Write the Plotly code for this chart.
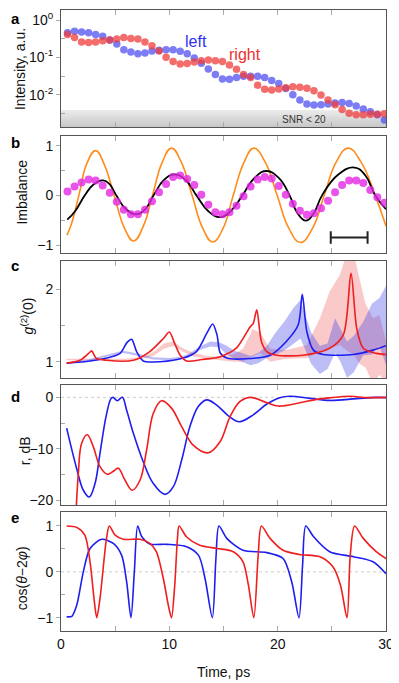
import math
import plotly.graph_objects as go
from plotly.subplots import make_subplots

FONT = "Liberation Sans, Arial, sans-serif"
BLUE = "#1e1ef0"
RED = "#f01e1e"

# ---- painel a: intensidade (escala log)
t_pts = [0.6, 1.25, 1.9, 2.55, 3.2, 3.85, 4.5, 5.15, 5.8, 6.45,
         7.1, 7.75, 8.4, 9.05, 9.7, 10.35, 11.0, 11.65, 12.3, 12.95,
         13.6, 14.25, 14.9, 15.55, 16.2, 16.85, 17.5, 18.15, 18.8, 19.45,
         20.1, 20.75, 21.4, 22.05, 22.7, 23.35, 24.0, 24.65, 25.3, 25.95,
         26.6, 27.25, 27.9, 28.55, 29.2, 29.85]
int_left = [0.46, 0.50, 0.48, 0.46, 0.41, 0.37, 0.29, 0.23, 0.16, 0.14,
            0.126, 0.131, 0.148, 0.155, 0.161, 0.161, 0.145, 0.126, 0.096, 0.070,
            0.049, 0.035, 0.0265, 0.026, 0.029, 0.031, 0.031, 0.031, 0.029, 0.024,
            0.020, 0.0147, 0.010, 0.0072, 0.0056, 0.0053, 0.0054, 0.0056, 0.0060, 0.0062,
            0.0058, 0.0050, 0.0041, 0.0035, 0.0029, 0.0021]
int_right = [0.41, 0.34, 0.26, 0.25, 0.26, 0.28, 0.29, 0.31, 0.34, 0.32,
             0.31, 0.26, 0.205, 0.148, 0.100, 0.077, 0.066, 0.069, 0.075, 0.081,
             0.085, 0.081, 0.077, 0.062, 0.048, 0.035, 0.029, 0.018, 0.0139, 0.0133,
             0.0142, 0.0154, 0.0164, 0.0157, 0.0148, 0.0128, 0.0098, 0.0072, 0.0054, 0.0040,
             0.0032, 0.0029, 0.0029, 0.0030, 0.0030, 0.0031]
snr_limit = 0.0039

# ---- painel b: imbalance
imb_pts = [0.08, 0.18, 0.26, 0.32, 0.30, 0.20, 0.05, -0.13, -0.29, -0.38,
           -0.38, -0.29, -0.12, 0.06, 0.23, 0.37, 0.40, 0.33, 0.21, 0.01,
           -0.19, -0.34, -0.38, -0.34, -0.21, -0.02, 0.18, 0.32, 0.37, 0.34,
           0.19, 0.01, -0.17, -0.31, -0.39, -0.36, -0.26, -0.11, 0.06, 0.21,
           0.30, 0.30, 0.25, 0.11, -0.04, -0.15]
orange_t = [0.55, 1.0, 1.65, 2.4, 3.2, 4.0, 4.9, 5.9, 6.7, 7.6, 8.45, 9.35, 10.2,
            11.1, 12.1, 13.1, 14.0, 14.95, 15.9, 16.9, 17.8, 18.85, 19.95, 21.05,
            22.1, 23.2, 24.3, 25.4, 26.5, 27.7, 29.0, 30.0]
orange_y = [-0.80, -0.55, 0.0, 0.65, 0.90, 0.62, 0.0, -0.68, -0.92, -0.62, 0.0, 0.67, 0.95,
            0.67, 0.0, -0.67, -0.94, -0.67, 0.0, 0.67, 0.95, 0.67, 0.0, -0.67,
            -0.95, -0.67, 0.0, 0.67, 0.95, 0.67, 0.0, -0.62]
black_t = [0.58, 1.3, 2.2, 3.0, 3.9, 4.5, 5.1, 6.0, 7.0, 7.8, 8.55, 9.5, 10.5, 11.5,
           12.5, 13.6, 14.7, 15.7, 16.75, 17.9, 19.0, 20.1, 21.1, 21.8, 22.6, 23.3,
           24.1, 25.6, 27.1, 28.1, 29.0, 30.0]
black_y = [-0.49, -0.32, 0.0, 0.22, 0.30, 0.22, 0.0, -0.28, -0.38, -0.27, 0.0, 0.31, 0.42, 0.31,
           0.0, -0.32, -0.44, -0.31, 0.0, 0.36, 0.49, 0.35, 0.0, -0.35, -0.51, -0.37,
           0.0, 0.42, 0.56, 0.40, 0.0, -0.28]
bar_t = [24.9, 28.3]
bar_y = [-0.85, -0.85]

# ---- painel c: g2(0)
g2_red_t = [0.52, 1.75, 2.52, 2.83, 3.23, 4.2, 6.67, 8.2, 9.45, 10.0,
            10.5, 11.0, 11.6, 13.0, 14.7, 16.2, 17.45, 17.75, 18.07, 18.5,
            19.0, 19.9, 22.35, 24.8, 26.06, 26.77, 27.3, 27.9, 29.1, 30.0]
g2_red = [0.98, 1.02, 1.11, 1.15, 1.05, 1.02, 1.02, 1.14, 1.32, 1.41,
          1.25, 1.09, 1.01, 1.03, 1.07, 1.19, 1.48, 1.53, 1.715, 1.28,
          1.14, 1.09, 1.09, 1.185, 1.37, 2.22, 1.46, 1.185, 1.115, 1.10]
g2_blue_t = [0.52, 2.68, 4.2, 5.45, 6.12, 6.52, 6.98, 7.6, 9.14, 11.3,
             12.5, 13.45, 14.0, 14.4, 14.7, 15.3, 17.1, 19.3, 20.8, 21.9,
             22.27, 22.7, 23.3, 24.2, 27.0, 28.8, 30.0]
g2_blue = [0.98, 1.01, 1.05, 1.115, 1.27, 1.31, 1.14, 1.01, 1.0, 1.05,
           1.14, 1.39, 1.52, 1.37, 1.12, 1.05, 1.04, 1.09, 1.28, 1.51,
           1.93, 1.41, 1.16, 1.10, 1.10, 1.16, 1.22]
band_blue_t = [1.0, 2.5, 4.0, 5.0, 5.7, 6.5, 7.5, 8.5, 10.0, 11.0, 11.8, 12.8, 13.8,
               14.6, 15.3, 16.0, 16.7, 17.5, 18.2, 19.0, 19.8, 20.6, 21.5, 22.1,
               22.6, 23.1, 23.9, 24.6, 25.3, 25.8, 26.4, 27.0, 27.9, 28.7, 29.4, 30.0]
band_blue_lo = [0.99, 1.01, 1.06, 1.10, 1.12, 1.10, 1.06, 1.03, 1.02, 1.04, 1.08, 1.16, 1.21,
                1.20, 1.10, 1.04, 1.00, 0.95, 0.98, 1.05, 1.10, 1.15, 1.25, 1.32,
                1.15, 0.97, 0.83, 0.90, 1.12, 1.00, 0.78, 0.85, 1.09, 1.10, 1.22, 0.95]
band_blue_hi = [1.01, 1.03, 1.09, 1.13, 1.15, 1.13, 1.09, 1.06, 1.05, 1.07, 1.11, 1.21, 1.28,
                1.27, 1.22, 1.15, 1.12, 1.08, 1.12, 1.22, 1.40, 1.55, 1.75, 1.85,
                1.62, 1.40, 1.22, 1.25, 1.60, 1.45, 1.28, 1.35, 1.55, 1.80, 1.88, 2.05]
band_red_t = [0.5, 3.0, 6.0, 7.5, 8.5, 9.5, 10.4, 11.2, 12.3, 13.5, 14.7, 15.9, 16.8,
              17.7, 18.4, 19.3, 20.8, 22.7, 23.9, 24.8, 25.75, 26.4, 27.0, 27.6,
              28.1, 28.8, 29.4, 30.0]
band_red_lo = [1.02, 1.02, 1.02, 1.04, 1.08, 1.18, 1.22, 1.14, 1.07, 1.04, 1.02, 1.00, 1.00,
               1.08, 1.12, 1.00, 1.04, 1.05, 1.14, 1.19, 1.23, 1.15, 1.10, 0.97,
               0.92, 0.70, 0.82, 0.70]
band_red_hi = [1.04, 1.04, 1.04, 1.07, 1.13, 1.25, 1.28, 1.19, 1.12, 1.08, 1.07, 1.10, 1.18,
               1.45, 1.40, 1.18, 1.16, 1.23, 1.60, 1.97, 2.20, 2.50, 2.50, 2.12,
               1.80, 1.60, 1.64, 1.28]

# ---- painel d: r, dB
r_blue_t = [0.52, 1.45, 2.06, 2.61, 3.14, 3.6, 4.15, 4.6, 4.8, 5.2, 5.66, 6.06, 6.68,
            7.6, 8.52, 9.6, 10.37, 11.14, 11.9, 12.67, 13.45, 14.37, 15.45, 16.46,
            17.75, 19.0, 20.2, 21.14, 23.0, 24.8, 27.3, 29.1, 30.0]
r_blue = [-6.0, -13.9, -18.1, -19.4, -16.8, -10.9, -3.8, -0.3, 0.0, -0.65, 0.0, -2.5, -7.0,
          -12.6, -16.8, -18.9, -17.4, -12.2, -5.7, -1.8, -0.5, -1.5, -3.6, -4.75,
          -3.4, -1.3, -0.06, 0.2, -0.2, -0.6, -0.25, 0.0, -0.05]
r_red_t = [1.35, 1.6, 1.9, 2.43, 2.98, 3.6, 4.3, 4.83, 5.29, 5.9, 6.58, 7.3, 7.9,
           8.52, 9.29, 10.2, 11.14, 12.2, 13.6, 14.68, 15.6, 16.5, 17.45, 19.0,
           20.06, 22.06, 23.6, 24.8, 26.7, 28.2, 30.0]
r_red = [-24.0, -14.8, -9.0, -7.3, -9.6, -13.5, -15.0, -14.4, -13.8, -16.1, -18.1, -16.1, -10.3,
         -3.1, -0.65, -2.1, -5.7, -9.3, -10.8, -8.65, -3.8, -0.85, 0.0, -1.05,
         -1.7, -1.05, -0.4, -0.1, 0.2, -0.05, 0.0]

# ---- painel e: cos(theta - 2 phi)
c_red_t = [0.52, 1.45, 2.2, 2.68, 3.08, 3.3, 3.6, 4.2, 4.46, 5.0,
           5.75, 7.3, 8.2, 8.8, 9.45, 9.9, 10.2, 10.5, 10.75, 10.9,
           11.6, 12.8, 14.4, 15.9, 16.8, 17.3, 17.8, 18.2, 18.5, 19.3,
           20.5, 22.0, 23.9, 25.1, 25.8, 26.4, 26.7, 27.1, 27.9, 29.1, 30.0]
c_red = [1.0, 0.97, 0.8, 0.22, -0.65, -1.0, -0.58, 0.73, 1.0, 0.8,
         0.71, 0.71, 0.62, 0.44, -0.15, -0.72, -1.0, -0.29, 0.73, 1.0,
         0.76, 0.58, 0.51, 0.44, 0.22, -0.29, -1.0, 0.36, 1.0, 0.73,
         0.47, 0.38, 0.33, 0.11, -0.29, -1.0, 0.36, 1.0, 0.73, 0.44, 0.29]
c_blue_t = [0.52, 1.0, 1.45, 2.06, 2.68, 3.75, 4.83, 5.6, 6.06, 6.46,
            6.77, 7.08, 7.45, 8.2, 9.75, 11.6, 12.7, 13.3, 13.97, 14.3,
            14.58, 15.3, 16.8, 19.0, 20.5, 21.3, 21.97, 22.3, 22.6, 23.3,
            24.8, 27.0, 28.8, 30.0]
c_blue = [-0.98, -0.97, -0.73, 0.0, 0.51, 0.71, 0.62, 0.36, -0.22, -1.0,
          0.0, 1.0, 0.77, 0.61, 0.6, 0.55, 0.36, -0.15, -1.0, 0.29,
          1.0, 0.73, 0.47, 0.42, 0.29, -0.22, -1.0, 0.15, 1.0, 0.77,
          0.44, 0.33, 0.22, -0.04]

fig = make_subplots(rows=5, cols=1)


def line(x, y, color, row, width=1.6, smooth=0.8):
    fig.add_trace(go.Scatter(x=x, y=y, mode="lines",
                             line=dict(color=color, width=width, shape="spline", smoothing=smooth),
                             showlegend=False, hoverinfo="skip"), row=row, col=1)


def band(x, lo, hi, color, row):
    fig.add_trace(go.Scatter(x=x, y=lo, mode="lines", line=dict(width=0),
                             showlegend=False, hoverinfo="skip"), row=row, col=1)
    fig.add_trace(go.Scatter(x=x, y=hi, mode="lines", line=dict(width=0),
                             fill="tonexty", fillcolor=color,
                             showlegend=False, hoverinfo="skip"), row=row, col=1)


# a
fig.add_trace(go.Scatter(x=[0, 30, 30, 0], y=[0.0013, 0.0013, snr_limit, snr_limit],
                         mode="lines", line=dict(width=0), fill="toself",
                         fillgradient=dict(type="vertical",
                                           colorscale=[[0, "#c6c6c6"], [1, "#ececec"]]),
                         showlegend=False, hoverinfo="skip"), row=1, col=1)
fig.add_trace(go.Scatter(x=t_pts, y=int_left, mode="markers",
                         marker=dict(size=7.5, color="rgba(80,80,240,0.75)"),
                         showlegend=False), row=1, col=1)
fig.add_trace(go.Scatter(x=t_pts, y=int_right, mode="markers",
                         marker=dict(size=7.5, color="rgba(240,60,60,0.75)"),
                         showlegend=False), row=1, col=1)

# b
line(orange_t, orange_y, "#ff8c1a", 2, smooth=1.3)
line(black_t, black_y, "black", 2, width=1.8, smooth=1.3)
fig.add_trace(go.Scatter(x=t_pts, y=imb_pts, mode="markers",
                         marker=dict(size=8, color="rgba(228,40,228,0.8)"),
                         showlegend=False), row=2, col=1)
fig.add_trace(go.Scatter(x=bar_t, y=bar_y, mode="lines+markers",
                         line=dict(color="#222", width=2),
                         marker=dict(symbol="line-ns", size=9, line=dict(color="#222", width=2)),
                         showlegend=False), row=2, col=1)

# c
band(band_red_t, band_red_lo, band_red_hi, "rgba(240,90,90,0.33)", 3)
band(band_blue_t, band_blue_lo, band_blue_hi, "rgba(70,70,230,0.36)", 3)
line(g2_blue_t, g2_blue, BLUE, 3)
line(g2_red_t, g2_red, RED, 3)

# d
line(r_blue_t, r_blue, BLUE, 4, smooth=1.0)
line(r_red_t, r_red, RED, 4, smooth=1.0)

# e
line(c_blue_t, c_blue, BLUE, 5)
line(c_red_t, c_red, RED, 5)

for r in (4, 5):
    fig.add_shape(type="line", x0=0, x1=30, y0=0, y1=0, xref=f"x{r}", yref=f"y{r}",
                  line=dict(color="#cccccc", width=1, dash="dot"), layer="below")

# eixos
fig.update_xaxes(range=[0, 30], tick0=0, dtick=10, ticks="inside", ticklen=5, tickcolor="#aaa",
                 minor=dict(dtick=5, ticks="inside", ticklen=5, tickcolor="#aaa"),
                 showline=True, linecolor="#555", linewidth=1, mirror="ticks",
                 showgrid=False, zeroline=False, showticklabels=False,
                 tickfont=dict(size=14, color="#111"))
fig.update_xaxes(showticklabels=True, row=5, col=1)
fig.update_yaxes(ticks="outside", ticklen=4, tickcolor="#aaa", showline=True, linecolor="#555",
                 linewidth=1, mirror=True, showgrid=False, zeroline=False,
                 tickfont=dict(size=14, color="#111"))

domains = [[0.8108, 1.0], [0.6082, 0.7971], [0.4074, 0.5958], [0.2029, 0.3961], [0.0, 0.1916]]
for i, d in enumerate(domains, start=1):
    fig.update_yaxes(domain=d, row=i, col=1)

fig.update_yaxes(type="log", range=[-2.88, 0.27], tickvals=[1, 0.1, 0.01],
                 ticktext=["10<sup>0</sup>", "10<sup>-1</sup>", "10<sup>-2</sup>"],
                 minor=dict(tickvals=[0.316, 0.0316, 0.00316], ticks="inside", ticklen=4, tickcolor="#aaa"),
                 row=1, col=1)
fig.update_yaxes(range=[-1.167, 1.195], tickvals=[-1, 0, 1],
                 minor=dict(tickvals=[-0.5, 0.5], ticks="inside", ticklen=4, tickcolor="#aaa"),
                 row=2, col=1)
fig.update_yaxes(range=[0.775, 2.39], tickvals=[1, 2],
                 minor=dict(tickvals=[1.5], ticks="inside", ticklen=4, tickcolor="#aaa"),
                 row=3, col=1)
fig.update_yaxes(range=[-20.97, 2.4], tickvals=[-20, -10, 0],
                 minor=dict(tickvals=[-15, -5], ticks="inside", ticklen=4, tickcolor="#aaa"),
                 row=4, col=1)
fig.update_yaxes(range=[-1.29, 1.305], tickvals=[-1, 0, 1],
                 minor=dict(tickvals=[-0.5, 0.5], ticks="inside", ticklen=4, tickcolor="#aaa"),
                 row=5, col=1)

# textos
ann = []
ann.append(dict(text="<b>a</b>", x=-0.161, y=1.003, xref="paper", yref="paper",
                xanchor="left", yanchor="top",
                showarrow=False, font=dict(size=15, color="black")))
for letter, y in zip("bcde", [0.786, 0.588, 0.378, 0.182]):
    ann.append(dict(text=f"<b>{letter}</b>", x=-0.161, y=y, xref="paper", yref="paper",
                    xanchor="left", yanchor="middle",
                    showarrow=False, font=dict(size=15, color="black")))
titles = [("Intensity, a.u.", -0.126, 0.905), ("Imbalance", -0.12, 0.706),
          ("<i>g</i><sup>(2)</sup>(0)", -0.105, 0.508), ("r, dB", -0.111, 0.291),
          ("cos(<i>θ</i>−2<i>φ</i>)", -0.12, 0.085)]
for text, x, y in titles:
    ann.append(dict(text=text, x=x, y=y, xref="paper", yref="paper", textangle=-90,
                    xanchor="center", yanchor="middle",
                    showarrow=False, font=dict(size=14, color="#111")))
ann.append(dict(text="Time, ps", x=0.5, y=-0.066, xref="paper", yref="paper",
                xanchor="center", yanchor="middle",
                showarrow=False, font=dict(size=14, color="#111")))
ann.append(dict(text="left", x=12.5, y=math.log10(0.26), xref="x", yref="y",
                showarrow=False, font=dict(size=16, color="#3030f0")))
ann.append(dict(text="right", x=17.0, y=math.log10(0.123), xref="x", yref="y",
                showarrow=False, font=dict(size=16, color="#f03030")))
ann.append(dict(text="SNR < 20", x=22.4, y=math.log10(0.0022), xref="x", yref="y",
                showarrow=False, font=dict(size=10, color="#333")))

# a página tem margem de 8px no body: compensa nas margens
fig.update_layout(width=391, height=675, margin=dict(l=53, r=13, t=2, b=52),
                  plot_bgcolor="white", paper_bgcolor="white",
                  font=dict(family=FONT), annotations=ann, showlegend=False)

fig.write_html("out.html")
